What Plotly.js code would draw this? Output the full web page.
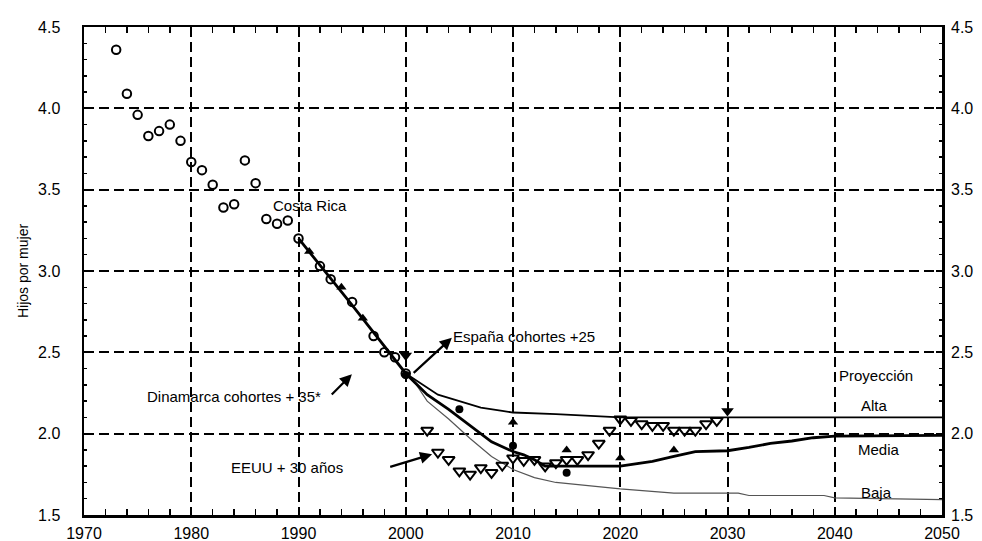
<!DOCTYPE html>
<html>
<head>
<meta charset="utf-8">
<script src="https://cdn.plot.ly/plotly-3.0.1.min.js"></script>
<style>html,body{margin:0;padding:0;background:#fff;}#chart{width:982px;height:541px;}</style>
</head>
<body>
<div id="chart"></div>
<script>
// Costa Rica observed (open circles)
const crYears = [1973,1974,1975,1976,1977,1978,1979,1980,1981,1982,1983,1984,1985,1986,1987,1988,1989,1990,1992,1993,1995,1997,1998,1999,2000];
const crVals  = [4.36,4.09,3.96,3.83,3.86,3.90,3.80,3.67,3.62,3.53,3.39,3.41,3.68,3.54,3.32,3.29,3.31,3.20,3.03,2.95,2.81,2.60,2.50,2.47,2.37];

// Dinamarca cohortes +35 (filled up triangles)
const dkYears = [1991,1994,1996,2010,2015,2020,2025];
const dkVals  = [3.12,2.90,2.71,2.07,1.90,1.85,1.90];

// España cohortes +25 (filled circles)
const esYears = [2000,2005,2010,2015];
const esVals  = [2.36,2.15,1.925,1.76];

// EEUU + 30 años (open down triangles)
const usYears = [2002,2003,2004,2005,2006,2007,2008,2009,2010,2011,2012,2013,2014,2015,2016,2017,2018,2019,2020,2021,2022,2023,2024,2025,2026,2027,2028,2029];
const usVals  = [2.02,1.885,1.84,1.77,1.75,1.79,1.76,1.805,1.85,1.835,1.84,1.80,1.82,1.84,1.84,1.87,1.94,2.02,2.09,2.08,2.06,2.05,2.05,2.02,2.02,2.02,2.06,2.08];
// EEUU filled markers
const usFillYears = [2000,2030];
const usFillVals  = [2.48,2.14];

// Projections
const mediaYears = [1990,1995,2000,2002,2004,2006,2008,2010,2011,2012,2013,2020,2021,2023,2025,2027,2030,2032,2034,2036,2038,2040,2050];
const mediaVals  = [3.20,2.79,2.37,2.24,2.15,2.05,1.95,1.89,1.87,1.84,1.80,1.80,1.81,1.83,1.86,1.89,1.895,1.915,1.94,1.955,1.975,1.985,1.99];
const altaYears = [2000,2002,2003,2005,2007,2009,2010,2014,2017,2020,2030,2040,2050];
const altaVals  = [2.37,2.28,2.24,2.20,2.16,2.14,2.13,2.12,2.11,2.10,2.10,2.10,2.10];
const bajaYears = [2000,2001,2002,2004,2006,2008,2010,2012,2014,2017,2020,2025,2031,2032,2039,2040,2050];
const bajaVals  = [2.37,2.30,2.20,2.09,1.97,1.86,1.78,1.73,1.70,1.68,1.66,1.635,1.635,1.62,1.62,1.605,1.595];

const xTicks = [1970,1980,1990,2000,2010,2020,2030,2040,2050];
const yTicks = [1.5,2.0,2.5,3.0,3.5,4.0,4.5];

const F = 'Liberation Sans, Arial, Helvetica, sans-serif';

const traces = [
  {x: bajaYears, y: bajaVals, mode:'lines', line:{color:'#555', width:1.2}, hoverinfo:'skip'},
  {x: altaYears, y: altaVals, mode:'lines', line:{color:'#000', width:1.8}, hoverinfo:'skip'},
  {x: mediaYears, y: mediaVals, mode:'lines', line:{color:'#000', width:2.8}, hoverinfo:'skip'},
  {x: crYears, y: crVals, mode:'markers', marker:{symbol:'circle-open', size:8.5, color:'#000', line:{width:2, color:'#000'}}},
  {x: usYears, y: usVals, mode:'markers', marker:{symbol:'triangle-down-open', size:10.5, color:'#000', line:{width:2, color:'#000'}}},
  {x: usFillYears, y: usFillVals, mode:'markers', marker:{symbol:'triangle-down', size:11, color:'#000'}},
  {x: dkYears, y: dkVals, mode:'markers', marker:{symbol:'triangle-up', size:9, color:'#000'}},
  {x: esYears, y: esVals, mode:'markers', marker:{symbol:'circle', size:8, color:'#000'}},
  {x: [1970], y: [1.5], yaxis:'y2', mode:'markers', marker:{size:0.1, opacity:0}, hoverinfo:'skip'}
];

const txt = (text, x, y, xanchor) => ({text, x, y, xref:'x', yref:'y', xanchor: xanchor||'left', yanchor:'middle', showarrow:false, font:{family:F, size:15, color:'#000'}});
const arr = (x, y, ax, ay) => ({text:'', x, y, ax, ay, xref:'x', yref:'y', axref:'x', ayref:'y', showarrow:true, arrowhead:2, arrowsize:1.1, arrowwidth:2.2, arrowcolor:'#000'});

const annotations = [
  txt('Costa Rica', 1991.1, 3.40, 'center'),
  txt('Dinamarca cohortes + 35*', 1992.3, 2.23, 'right'),
  txt('España cohortes +25', 2004.2, 2.60, 'left'),
  txt('EEUU + 30 años', 1994.3, 1.795, 'right'),
  txt('Proyección', 2040.2, 2.36, 'left'),
  txt('Alta', 2042.3, 2.175, 'left'),
  txt('Media', 2042.0, 1.905, 'left'),
  txt('Baja', 2042.3, 1.64, 'left'),
  arr(2004.3, 2.59, 2000.6, 2.365),
  arr(1994.98, 2.365, 1992.96, 2.232),
  arr(2002.46, 1.874, 1998.41, 1.793)
];

const gridDash = '10px,5px';
const layout = {
  width: 982, height: 541,
  margin: {l:84, r:40, t:27, b:26},
  paper_bgcolor:'#fff', plot_bgcolor:'#fff',
  showlegend:false,
  font:{family:F, color:'#000'},
  xaxis: {
    range:[1970,2050], tickvals:xTicks, ticktext:xTicks.map(String),
    ticks:'inside', ticklen:6, tickwidth:2, tickcolor:'#000',
    showline:true, linewidth:2.5, linecolor:'#000', mirror:'allticks',
    showgrid:true, gridcolor:'#000', gridwidth:2, griddash:gridDash,
    zeroline:false, tickfont:{family:F, size:16, color:'#000'},
    ticklabelstandoff: 2,
    minor:{dtick:2, tick0:1970, ticks:'inside', ticklen:3, tickcolor:'#000', tickwidth:1.5, showgrid:false}
  },
  yaxis: {
    range:[1.5,4.5], tickvals:yTicks, ticktext:yTicks.map(v=>v.toFixed(1)),
    ticks:'inside', ticklen:6, tickwidth:2, tickcolor:'#000',
    showline:true, linewidth:2.5, linecolor:'#000', mirror:'allticks',
    showgrid:true, gridcolor:'#000', gridwidth:2, griddash:gridDash,
    zeroline:false, tickfont:{family:F, size:16, color:'#000'},
    ticklabelstandoff: 18,
    minor:{dtick:0.1, tick0:1.5, ticks:'inside', ticklen:3, tickcolor:'#000', tickwidth:1.5, showgrid:false},
    title:{text:'Hijos por mujer', font:{family:F, size:14, color:'#000'}, standoff:6}
  },
  yaxis2: {
    overlaying:'y', side:'right', range:[1.5,4.5], tickvals:yTicks, ticktext:yTicks.map(v=>v.toFixed(1)),
    ticks:'', showline:false, showgrid:false, zeroline:false,
    tickfont:{family:F, size:16, color:'#000'}, ticklabelstandoff: 8
  },
  annotations
};

Plotly.newPlot('chart', traces, layout, {staticPlot:true, displayModeBar:false});
</script>
</body>
</html>
